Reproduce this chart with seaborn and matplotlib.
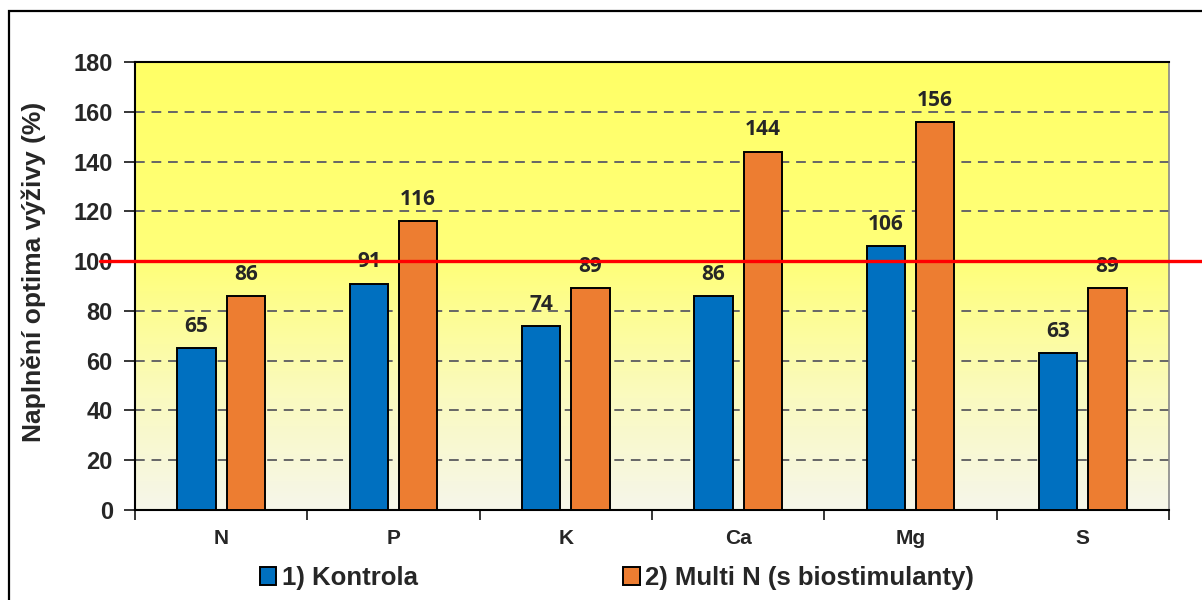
import numpy as np
import pandas as pd
import matplotlib.pyplot as plt
import matplotlib.colors as mcolors
import matplotlib.transforms as mtransforms
from matplotlib.lines import Line2D
from matplotlib.patches import Rectangle
import seaborn as sns

# data
prvky = ['N', 'P', 'K', 'Ca', 'Mg', 'S']
kontrola = [65, 91, 74, 86, 106, 63]
multi_n = [86, 116, 89, 144, 156, 89]
varianty = ['1) Kontrola', '2) Multi N (s biostimulanty)']
optimum = 100
y_ticks = [0, 20, 40, 60, 80, 100, 120, 140, 160, 180]

df = pd.DataFrame({
    'prvek': prvky * 2,
    'hodnota': kontrola + multi_n,
    'varianta': [varianty[0]] * len(prvky) + [varianty[1]] * len(prvky),
})

sns.set_style('white')
plt.rcParams['font.family'] = ['Liberation Sans', 'DejaVu Sans']
plt.rcParams['font.weight'] = 'bold'

fig = plt.figure(figsize=(12.02, 6), dpi=100)
ax = fig.add_axes([135 / 1202, 1 - 510 / 600, (1169 - 135) / 1202, 448 / 600])

# yellow gradient background
grad = mcolors.LinearSegmentedColormap.from_list(
    'bg', [(0, '#f6f6ea'), (0.25, '#fafac0'), (0.55, '#ffff7a'), (1, '#ffff66')])
ax.imshow(np.linspace(0, 1, 256).reshape(-1, 1), cmap=grad, aspect='auto',
          extent=(-0.5, 5.5, 0, 180), origin='lower', zorder=0)

for t in y_ticks[1:-1]:
    ax.axhline(t, color='#666666', lw=1.4, ls=(0, (5, 3.5)), zorder=1)

sns.barplot(data=df, x='prvek', y='hodnota', hue='varianta',
            palette=['#0070c0', '#ed7d31'], width=0.57, gap=0.22,
            edgecolor='black', linewidth=1.4, saturation=1, ax=ax, zorder=3)

for cont in ax.containers:
    ax.bar_label(cont, fmt='%.0f', padding=8, fontsize=15,
                 fontweight='bold', family=['Open Sans', 'DejaVu Sans'])

ax.set_xlim(-0.5, 5.5)
ax.set_ylim(0, 180)
ax.set_yticks(y_ticks)
ax.tick_params(axis='y', labelsize=17, length=8, width=1.3, direction='out',
               pad=8, left=True)
ax.set_xticks(np.arange(-0.5, 6, 1))
ax.set_xticklabels([])
ax.set_xticks(range(len(prvky)), minor=True)
ax.set_xticklabels(prvky, minor=True, fontsize=15)
ax.tick_params(axis='x', which='major', length=7, width=1.3, direction='out',
               bottom=True)
ax.tick_params(axis='x', which='minor', length=0, pad=14)
ax.set_xlabel('')
ax.set_ylabel('Naplnění optima výživy (%)', fontsize=19, fontweight='bold')
ax.yaxis.set_label_coords(-0.086, 0.531)

for s in ['left', 'bottom', 'top']:
    ax.spines[s].set_color('black')
    ax.spines[s].set_linewidth(1.5)
ax.spines['right'].set_color('#888888')
ax.spines['right'].set_linewidth(1.2)

# red line for 100 %
trans = mtransforms.blended_transform_factory(fig.transFigure, ax.transData)
ax.add_line(Line2D([100 / 1202, 1.0], [optimum, optimum], transform=trans,
                   color='#ff0000', lw=2.4, clip_on=False, zorder=6))

ax.legend(loc='center', bbox_to_anchor=(0.466, -0.152), ncol=2, frameon=False,
          handlelength=0.65, handleheight=0.65, handletextpad=0.2,
          columnspacing=8.0, prop={'weight': 'bold', 'size': 18.5})

# outer frame of the chart
fig.add_artist(Rectangle((9 / 1202, -0.2), 1.2, 1.2 - 10.5 / 600, fill=False,
                         lw=1.6, ec='black', transform=fig.transFigure))

fig.savefig('out.png', dpi=100)
